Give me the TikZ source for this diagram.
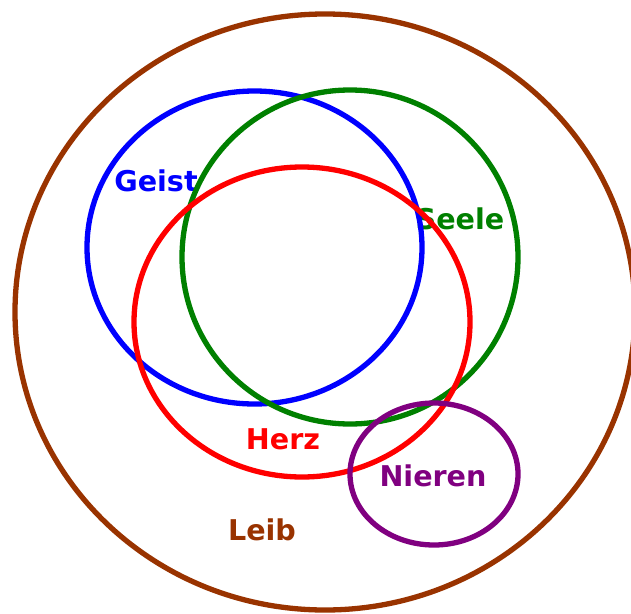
\documentclass[tikz,border=0pt]{standalone}
\usepackage{fontspec}
\setmainfont{DejaVu Sans}
\usepackage{xcolor}
\definecolor{cLeib}{HTML}{993300}
\definecolor{cGeist}{HTML}{0000FF}
\definecolor{cSeele}{HTML}{008000}
\definecolor{cHerz}{HTML}{FF0000}
\definecolor{cNieren}{HTML}{800080}

\begin{document}
\begin{tikzpicture}[
  x=1pt, y=-1pt,
  ring/.style={line width=5.3pt},
  lbl/.style={font=\fontsize{28.6}{30}\selectfont\bfseries, inner sep=0pt}
]
  % page = 631 x 613, y runs downward
  \useasboundingbox (0,0) rectangle (631,613);

  % Labels (set under the rings)
  \node[lbl, text=cGeist]  (geist)  at (156,181) {Geist};
  \node[lbl, text=cSeele]  (seele)  at (460,219) {Seele};
  \node[lbl, text=cHerz]   (herz)   at (283,439) {Herz};
  \node[lbl, text=cNieren] (nieren) at (433,476) {Nieren};
  \node[lbl, text=cLeib]   (leib)   at (262,530) {Leib};

  % Rings
  \draw[ring, cLeib]   (325,312) ellipse [x radius=310, y radius=298];
  \draw[ring, cGeist]  (254.5,247.5) ellipse [x radius=167.5, y radius=156.5];
  \draw[ring, cSeele]  (350,257) ellipse [x radius=168, y radius=167];
  \draw[ring, cHerz]   (302,322) ellipse [x radius=168, y radius=155];
  \draw[ring, cNieren] (434,474) ellipse [x radius=84, y radius=71];
\end{tikzpicture}
\end{document}
